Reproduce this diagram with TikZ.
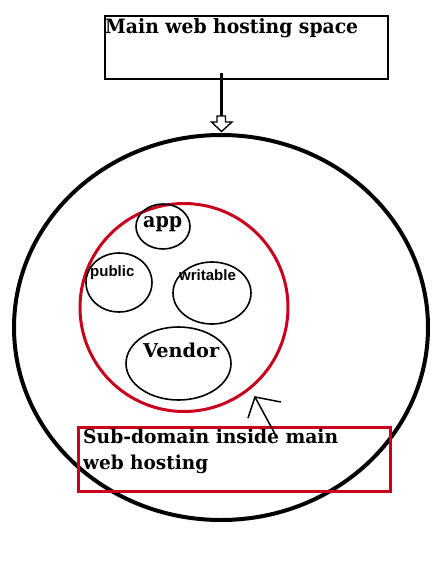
\documentclass[tikz,border=0pt]{standalone}
\usepackage{fontspec}
\usepackage{graphicx}
\newfontfamily\sansb{Liberation Sans}
\newfontfamily\serb{DejaVu Serif}
\usetikzlibrary{shapes.geometric}
\definecolor{dred}{HTML}{C8001E}
\newcommand{\fitw}[3]{\resizebox{#1}{#2}{\serb\bfseries #3}}
\tikzset{
  lbl/.style={inner sep=0pt, anchor=base west},
  oval/.style={draw=black, line width=1.6pt, ellipse, inner sep=0pt}
}
\begin{document}
\begin{tikzpicture}[x=1pt,y=-1pt]
\useasboundingbox (0,0) rectangle (444,573);
% top box
\node[draw, line width=1.6pt, minimum width=283pt, minimum height=63pt, inner sep=0pt, anchor=north west] (main) at (104,15) {};
\node[lbl] (maintxt) at (105,33) {\fitw{253pt}{15pt}{Main web hosting space}};
% big circle
\node[oval, line width=4pt, minimum width=414pt, minimum height=385pt] (big) at (221,327.5) {};
% arrow
\coordinate (a0) at (221,73);
\coordinate (a1) at (221,117);
\draw[line width=3pt] (a0) -- (a1);
\draw[line width=1.4pt, fill=white] (217,116) -- (225.5,116) -- (225.5,122) -- (232,122) -- (221.5,131.5) -- (211.5,122) -- (217,122) -- cycle;
% red circle
\node[draw=dred, line width=3pt, circle, minimum size=208pt, inner sep=0pt] (sub) at (184,307.5) {};
% inner ellipses
\node[oval, minimum width=54pt, minimum height=45pt] (app) at (163,226.5) {};
\node[oval, minimum width=66pt, minimum height=59pt] (public) at (119,282.5) {};
\node[oval, minimum width=78pt, minimum height=62pt] (writable) at (212,293) {};
\node[oval, minimum width=105pt, minimum height=73pt] (vendor) at (178.5,363.5) {};
\node[lbl] (apptxt) at (143,227.5) {\fitw{39pt}{11pt}{app}};
\node[lbl, font=\sansb\bfseries\fontsize{15}{15}\selectfont] (pubtxt) at (90,276) {public};
\node[lbl, font=\sansb\bfseries\fontsize{15}{15}\selectfont] (wrtxt) at (179,280) {writable};
\node[lbl] (vendtxt) at (143,357) {\fitw{76pt}{14.5pt}{Vendor}};
% sub-domain box
\node[draw=dred, line width=3pt, minimum width=312pt, minimum height=64pt, inner sep=0pt, anchor=north west] (sbox) at (77,425.5) {};
\node[lbl] (s1) at (83,443) {\fitw{255pt}{14.5pt}{Sub-domain inside main}};
\node[lbl] (s2) at (83,469) {\fitw{125pt}{14.5pt}{web hosting}};
% hand-drawn arrow
\coordinate (tip) at (255,397);
\coordinate (tail) at (275,434);
\coordinate (arm1) at (281,402);
\coordinate (arm2) at (248,418);
\draw[line width=1.5pt] (tail) -- (tip);
\draw[line width=1.5pt] (arm1) -- (tip) -- (arm2);
\end{tikzpicture}
\end{document}
